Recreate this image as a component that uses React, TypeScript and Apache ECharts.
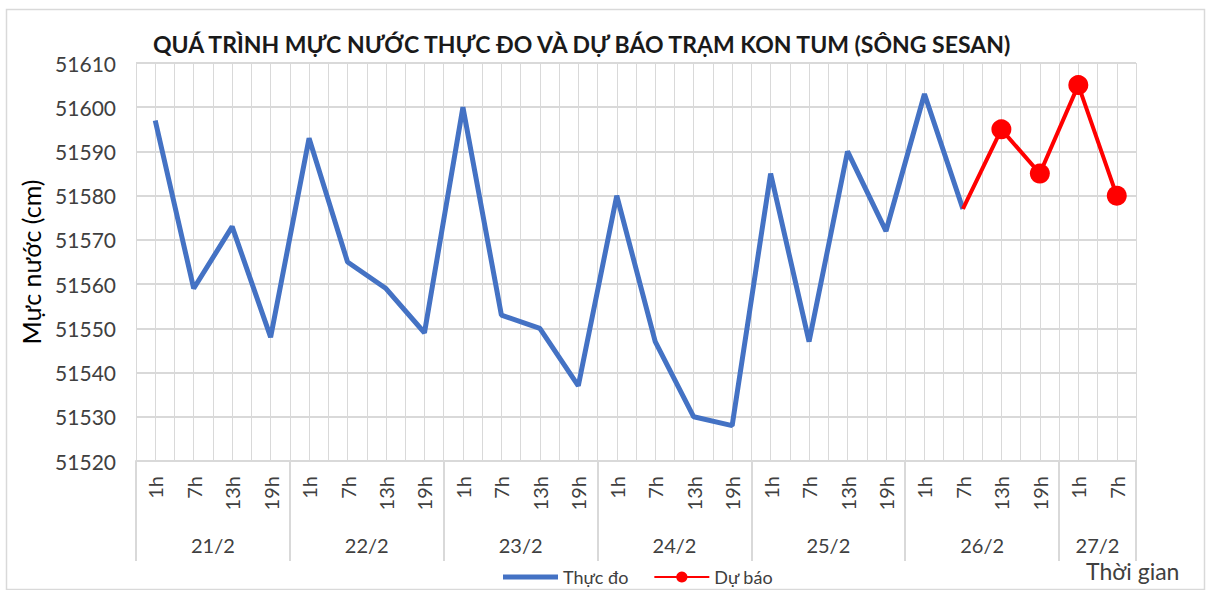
import React, { useEffect, useRef } from 'react';
import * as echarts from 'echarts';

const titleText = 'QUÁ TRÌNH MỰC NƯỚC THỰC ĐO VÀ DỰ BÁO TRẠM KON TUM (SÔNG SESAN)';
const dates = ['21/2', '22/2', '23/2', '24/2', '25/2', '26/2', '27/2'];
const hoursPerDate = [4, 4, 4, 4, 4, 4, 2];
const hourLabels = ['1h', '7h', '13h', '19h'];
const observed = [
  51597, 51559, 51573, 51548,
  51593, 51565, 51559, 51549,
  51600, 51553, 51550, 51537,
  51580, 51547, 51530, 51528,
  51585, 51547, 51590, 51572,
  51603, 51577,
];
const forecastStartIndex = 21;
const forecast = [51577, 51595, 51585, 51605, 51580];
const yMin = 51520;
const yMax = 51610;
const yStep = 10;

const FONT = 'Lato, "Noto Sans", sans-serif';
const GRID = '#d9d9d9';
const TEXT = '#404040';

export default function App() {
  const ref = useRef<HTMLDivElement>(null);
  useEffect(() => {
    document.body.style.margin = '0';
    if (!ref.current) return;
    const chart = echarts.init(ref.current, undefined, { renderer: 'svg' });

    const categories: string[] = [];
    const catHour: string[] = [];
    dates.forEach((d, di) => {
      for (let h = 0; h < hoursPerDate[di]; h++) {
        categories.push(d + ' ' + hourLabels[h]);
        catHour.push(hourLabels[h]);
      }
    });
    const n = categories.length;
    const halfCount = 2 * n + 1;
    const halfCats: string[] = [];
    for (let i = 0; i < halfCount; i++) halfCats.push('s' + i);
    const boundaries = new Set<number>();
    const centerLabel: Record<number, string> = {};
    let acc = 0;
    boundaries.add(0);
    dates.forEach((d, di) => {
      centerLabel[acc + hoursPerDate[di]] = d;
      acc += hoursPerDate[di] * 2;
      boundaries.add(acc);
    });

    const obsData = categories.map((_, i) => (i < observed.length ? observed[i] : null));
    const fcData: any[] = categories.map((_, i) => {
      const k = i - forecastStartIndex;
      if (k < 0 || k >= forecast.length) return null;
      return k === 0 ? { value: forecast[k], symbol: 'none' } : forecast[k];
    });

    chart.setOption({
      animation: false,
      backgroundColor: '#ffffff',
      textStyle: { fontFamily: FONT },
      title: {
        text: titleText,
        left: 148,
        top: 27,
        textStyle: { fontFamily: FONT, fontSize: 23, fontWeight: 'bold', color: '#1a1a1a' },
      },
      grid: { left: 136, right: 70, top: 63, bottom: 129, containLabel: false },
      legend: {
        top: 563,
        left: 498,
        itemWidth: 55,
        itemHeight: 14,
        itemGap: 25,
        textStyle: { fontFamily: FONT, fontSize: 18, color: TEXT },
        data: [
          { name: 'Thực đo', icon: 'path://M0,0M0,4.5L55,4.5L55,9.5L0,9.5ZM0,14' },
          { name: 'Dự báo' },
        ],
      },
      xAxis: [
        {
          type: 'category',
          data: categories,
          boundaryGap: true,
          position: 'bottom',
          axisLine: { show: true, lineStyle: { color: GRID, width: 2 } },
          axisTick: { show: false },
          splitLine: { show: false },
          axisLabel: {
            rotate: 90,
            interval: 0,
            margin: 15,
            fontSize: 20,
            color: TEXT,
            fontFamily: FONT,
            formatter: (_v: string, i: number) => catHour[i],
          },
        },
        {
          type: 'category',
          data: halfCats,
          boundaryGap: false,
          position: 'bottom',
          axisLine: { show: false },
          axisTick: {
            show: true,
            length: 100,
            interval: (i: number) => boundaries.has(i),
            lineStyle: { color: GRID, width: 2 },
          },
          splitLine: { show: true, interval: 0, lineStyle: { color: GRID, width: 1 } },
          axisLabel: {
            interval: 0,
            margin: 74,
            fontSize: 20,
            color: TEXT,
            fontFamily: FONT,
            formatter: (_v: string, i: number) => centerLabel[i] || '',
          },
        },
      ],
      yAxis: {
        type: 'value',
        min: yMin,
        max: yMax,
        interval: yStep,
        name: 'Mực nước (cm)',
        nameLocation: 'middle',
        nameGap: 93,
        nameTextStyle: { fontFamily: FONT, fontSize: 25, color: '#000' },
        axisLine: { show: false },
        axisTick: { show: false },
        splitLine: { show: true, lineStyle: { color: GRID, width: 2 } },
        axisLabel: {
          fontSize: 21,
          color: TEXT,
          margin: 20,
          fontFamily: FONT,
          formatter: (v: number) => String(v),
        },
      },
      series: [
        {
          name: 'Thực đo',
          type: 'line',
          xAxisIndex: 0,
          data: obsData,
          symbol: 'none',
          lineStyle: { color: '#4472c4', width: 5 },
          itemStyle: { color: '#4472c4' },
          z: 3,
        },
        {
          name: 'Dự báo',
          type: 'line',
          xAxisIndex: 0,
          data: fcData,
          symbol: 'circle',
          symbolSize: 20,
          lineStyle: { color: '#ff0000', width: 4 },
          itemStyle: { color: '#ff0000' },
          z: 4,
        },
      ],
      graphic: [
        {
          type: 'rect',
          left: 4,
          top: 7,
          shape: { width: 1198, height: 580 },
          style: { fill: 'none', stroke: '#d9d9d9', lineWidth: 1.5 },
          z: -1,
        },
        {
          type: 'text',
          left: 1086,
          top: 559,
          style: { text: 'Thời gian', fontSize: 23, fill: TEXT, fontFamily: FONT },
        },
      ],
    });
    return () => chart.dispose();
  }, []);
  return <div ref={ref} style={{ width: 1206, height: 590 }} />;
}
